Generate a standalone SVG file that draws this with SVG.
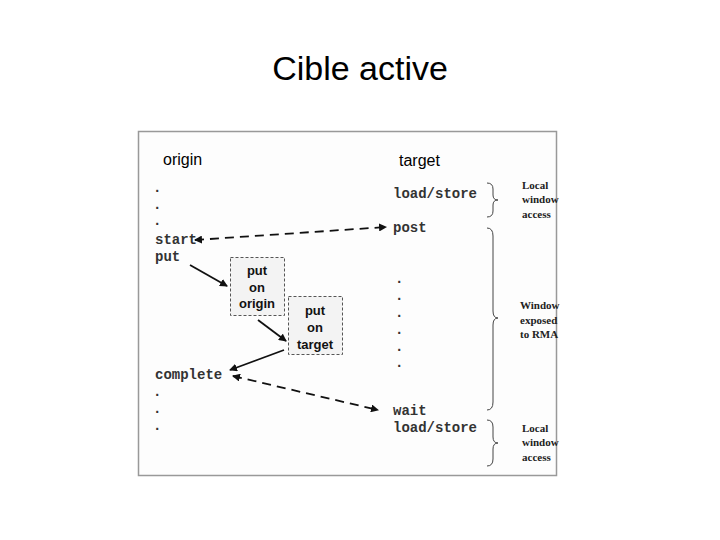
<svg xmlns="http://www.w3.org/2000/svg" width="720" height="540" viewBox="0 0 720 540">
<style>
.t{font-family:"Liberation Sans",Arial,sans-serif;fill:#000}
.m{font-family:"Liberation Mono","Courier New",monospace;font-size:14px;font-weight:bold;fill:#333}
.b{font-family:"Liberation Sans",Arial,sans-serif;font-size:13px;font-weight:bold;text-anchor:middle;fill:#111}
.s{font-family:"Liberation Serif","Times New Roman",serif;font-size:11px;font-weight:bold;fill:#222}
.box{fill:#f3f3f3;stroke:#555;stroke-dasharray:3 2;stroke-width:1}
.a{stroke:#111;stroke-width:1.8;fill:none}
.d{stroke-dasharray:9 6}
.br{fill:none;stroke:#444;stroke-width:1}
</style>
<defs><marker id="ah" markerWidth="8" markerHeight="8" refX="7" refY="4" orient="auto-start-reverse" markerUnits="userSpaceOnUse"><path d="M0,0 L8,4 L0,8 z" fill="#111"/></marker></defs>
<rect width="720" height="540" fill="#fff"/>
<text class="t" x="360" y="80" font-size="34" text-anchor="middle">Cible active</text>
<rect x="138.5" y="131.5" width="418" height="344" fill="#fdfdfd" stroke="#999" stroke-width="1.5"/>
<text class="t" x="163" y="165" font-size="16">origin</text>
<text class="t" x="399" y="166" font-size="16">target</text>
<g id="origin-col">
<text class="m" x="153" y="192">.</text><text class="m" x="153" y="209">.</text><text class="m" x="153" y="225">.</text>
<text class="m" x="155" y="244">start</text><text class="m" x="155" y="261">put</text>
<text class="m" x="155" y="379">complete</text>
<text class="m" x="153" y="396">.</text><text class="m" x="153" y="413">.</text><text class="m" x="153" y="430">.</text>
</g>
<g id="target-col">
<text class="m" x="393" y="198">load/store</text>
<text class="m" x="393" y="232">post</text>
<text class="m" x="395" y="283">.</text><text class="m" x="395" y="300">.</text><text class="m" x="395" y="317">.</text><text class="m" x="395" y="334">.</text><text class="m" x="395" y="351">.</text><text class="m" x="395" y="367">.</text>
<text class="m" x="393" y="415">wait</text>
<text class="m" x="393" y="432">load/store</text>
</g>
<g id="put-origin"><rect class="box" x="230.5" y="257.5" width="54" height="58"/>
<text class="b" x="257" y="275">put</text><text class="b" x="257" y="292">on</text><text class="b" x="257" y="308">origin</text></g>
<g id="put-target"><rect class="box" x="288.5" y="296.5" width="54" height="58"/>
<text class="b" x="315" y="315">put</text><text class="b" x="315" y="332">on</text><text class="b" x="315" y="349">target</text></g>
<g id="connectors">
<line class="a d" x1="195" y1="240" x2="386" y2="227" marker-start="url(#ah)" marker-end="url(#ah)"/>
<line class="a" x1="190" y1="265" x2="227" y2="286" marker-end="url(#ah)"/>
<line class="a" x1="258" y1="320" x2="286" y2="341" marker-end="url(#ah)"/>
<line class="a" x1="284" y1="350" x2="230" y2="370" marker-end="url(#ah)"/>
<line class="a d" x1="233" y1="376" x2="378" y2="410" marker-start="url(#ah)" marker-end="url(#ah)"/>
</g>
<g id="braces">
<path class="br" d="M487,183 Q493,183 493,189 L493,195 Q493,200 498,200 Q493,200 493,205 L493,211 Q493,217 487,217"/>
<path class="br" d="M487,228 Q493,228 493,236 L493,311 Q493,318 498,318 Q493,318 493,325 L493,402 Q493,410 487,410"/>
<path class="br" d="M487,420 Q493,420 493,427 L493,437 Q493,443 498,443 Q493,443 493,449 L493,459 Q493,466 487,466"/>
<text class="s" x="522" y="189">Local</text><text class="s" x="522" y="203">window</text><text class="s" x="522" y="218">access</text>
<text class="s" x="520" y="309">Window</text><text class="s" x="520" y="324">exposed</text><text class="s" x="520" y="338">to RMA</text>
<text class="s" x="522" y="432">Local</text><text class="s" x="522" y="446">window</text><text class="s" x="522" y="461">access</text>
</g>
</svg>
